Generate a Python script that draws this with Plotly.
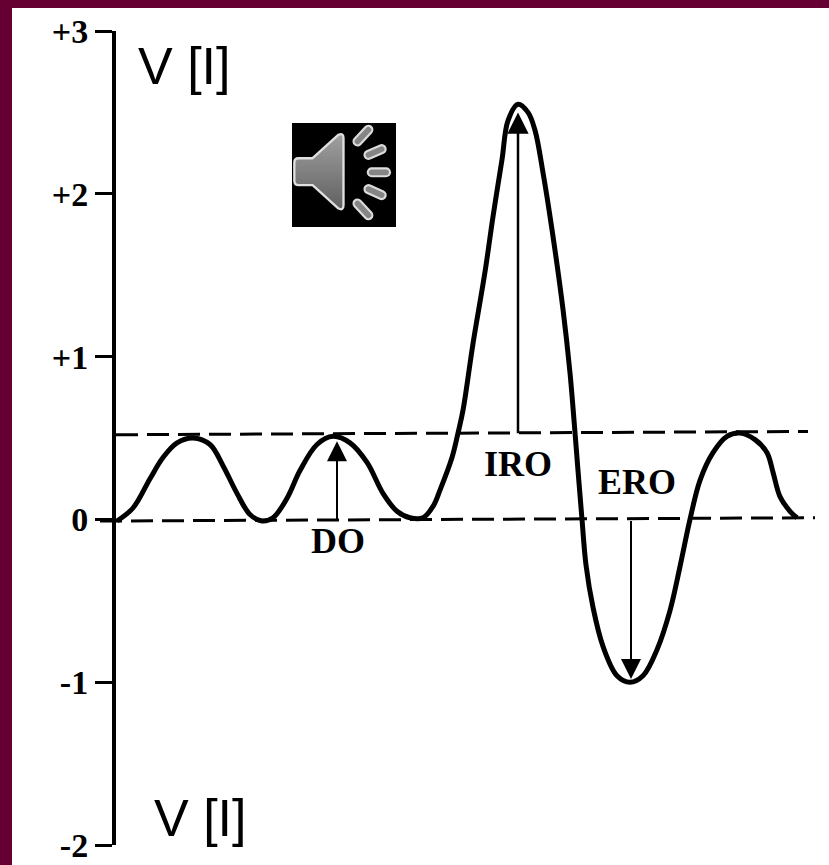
import base64
import plotly.graph_objects as go

# Volume trace (x is horizontal position on the time scale, y is V in litres)
time = [117, 133, 150, 163, 177, 193, 210, 223, 237, 250, 262, 273, 287, 300, 317, 333, 350, 367, 383, 397,
        410, 423, 433, 440, 452, 458, 463, 473, 485, 493, 502, 508, 518, 528, 535, 543, 552, 563, 570, 574,
        578, 582, 586, 593, 603, 617, 630, 643, 657, 670, 680, 690, 700, 713, 727, 740, 755, 767, 773, 780,
        790, 797]
volume = [-0.01, 0.07, 0.25, 0.38, 0.47, 0.50, 0.46, 0.33, 0.16, 0.03, -0.01, 0.01, 0.13, 0.30, 0.46, 0.51,
          0.47, 0.35, 0.16, 0.05, 0.01, 0.01, 0.08, 0.18, 0.38, 0.53, 0.67, 1.08, 1.52, 1.86, 2.21, 2.45,
          2.55, 2.50, 2.39, 2.13, 1.78, 1.29, 0.90, 0.61, 0.30, 0.00, -0.28, -0.54, -0.78, -0.96, -1.00,
          -0.96, -0.80, -0.56, -0.29, 0.00, 0.24, 0.41, 0.51, 0.53, 0.49, 0.41, 0.29, 0.14, 0.05, 0.01]

base_t = [100, 815]
base_v = [-0.01, 0.01]
upper_t = [116, 808]
upper_v = [0.52, 0.54]

tick_vals = [3, 2, 1, 0, -1, -2]
tick_text = ["+3", "+2", "+1", "0", "-1", "-2"]

do_arrow = dict(t=337, start=-0.01, end=0.48, label="DO")
iro_arrow = dict(t=518, start=0.52, end=2.50, label="IRO")
ero_arrow = dict(t=631, start=0.00, end=-0.98, label="ERO")

W, H = 829, 865
ML, MR, MT, MB = 12, 0, 31, 20
PW, PH = W - ML - MR, H - MT - MB


def pxx(p):
    return (p - ML) / PW


def pxy(p):
    return 1 - (p - MT) / PH


MAROON = "#660033"
INK = "#000000"
SERIF = "Liberation Serif"
SANS = "Liberation Sans"

fig = go.Figure()
for xs, ys in ((base_t, base_v), (upper_t, upper_v)):
    fig.add_trace(go.Scatter(x=xs, y=ys, mode="lines", hoverinfo="skip",
                             line=dict(color=INK, width=3, dash="22px,9px")))
fig.add_trace(go.Scatter(x=time, y=volume, mode="lines", hoverinfo="skip",
                         line=dict(color=INK, width=5, shape="spline", smoothing=1.0)))

annotations = []
for arrow, width in ((do_arrow, 2), (iro_arrow, 2.5), (ero_arrow, 2)):
    annotations.append(dict(x=arrow["t"], y=arrow["end"], ax=arrow["t"], ay=arrow["start"],
                            xref="x", yref="y", axref="x", ayref="y", text="", showarrow=True,
                            arrowhead=2, arrowsize=2.0 if width == 2 else 1.7, arrowwidth=width,
                            arrowcolor=INK))

for text, xp, yp in (("DO", 338, 541), ("IRO", 518, 464), ("ERO", 637, 482)):
    annotations.append(dict(x=pxx(xp), y=pxy(yp), xref="paper", yref="paper", text=f"<b>{text}</b>",
                            showarrow=False, xanchor="center", yanchor="middle",
                            font=dict(family=SERIF, size=36, color=INK)))
for xp, yp in ((184, 66), (200, 818)):
    annotations.append(dict(x=pxx(xp), y=pxy(yp), xref="paper", yref="paper", text="V [I]",
                            showarrow=False, xanchor="center", yanchor="middle",
                            font=dict(family=SANS, size=52, color=INK)))

# Speaker badge as an inline vector picture
bars = [(262, 95, 295, 60), (295, 135, 335, 118), (305, 187, 348, 187), (295, 237, 335, 255), (262, 280, 295, 315)]
bar_svg = "".join(
    f'<line x1="{a}" y1="{b}" x2="{c}" y2="{d}" stroke="#dcdcdc" stroke-width="30" stroke-linecap="round"/>'
    f'<line x1="{a}" y1="{b}" x2="{c}" y2="{d}" stroke="#858585" stroke-width="17" stroke-linecap="round"/>'
    for a, b, c, d in bars)
svg = ('<svg xmlns="http://www.w3.org/2000/svg" viewBox="65 40 313 310" preserveAspectRatio="none">'
       '<defs><linearGradient id="g" x1="0" y1="0" x2="0" y2="1"><stop offset="0" stop-color="#a0a0a0"/>'
       '<stop offset="1" stop-color="#606060"/></linearGradient></defs>'
       '<rect x="65" y="40" width="313" height="310" fill="#000"/>'
       '<path d="M85 145 L127 145 L205 75 Q220 68 220 85 L220 285 Q220 302 205 295 L127 225 L85 225 Q72 225 72 212 '
       'L72 158 Q72 145 85 145 Z" fill="url(#g)" stroke="#e0e0e0" stroke-width="7" stroke-linejoin="round"/>'
       + bar_svg + '</svg>')
icon = "data:image/svg+xml;base64," + base64.b64encode(svg.encode()).decode()

fig.update_layout(
    width=W, height=H, showlegend=False,
    margin=dict(l=ML, r=MR, t=MT, b=MB, pad=0),
    paper_bgcolor=MAROON, plot_bgcolor="white",
    xaxis=dict(range=[ML, W], visible=False, fixedrange=True),
    yaxis=dict(range=[-2, 3], anchor="free", position=pxx(114), showgrid=False, zeroline=False,
               showline=True, linecolor=INK, linewidth=4,
               tickmode="array", tickvals=tick_vals, ticktext=tick_text,
               ticks="outside", ticklen=17, tickwidth=3, tickcolor=INK,
               tickfont=dict(family=SERIF, size=34, color=INK, weight=700), fixedrange=True),
    annotations=annotations,
    shapes=[dict(type="rect", xref="paper", yref="paper", x0=0, x1=1, y0=pxy(H), y1=pxy(8),
                 fillcolor="white", line_width=0, layer="below")],
    images=[dict(source=icon, xref="paper", yref="paper", x=pxx(292), y=pxy(123),
                 sizex=104 / PW, sizey=104 / PH, xanchor="left", yanchor="top", sizing="stretch", layer="above")],
)

fig.write_html("out.html", config={"displayModeBar": False},
               post_script="document.body.style.margin='0';document.body.style.overflow='hidden';")
